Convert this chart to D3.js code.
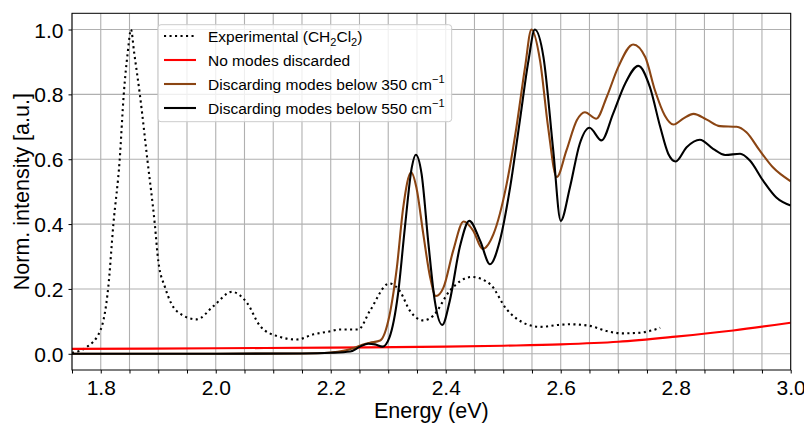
<!DOCTYPE html>
<html><head><meta charset="utf-8">
<script src="https://cdn.jsdelivr.net/npm/d3@7"></script>
<style>body{margin:0;background:#fff}svg{display:block}text{font-family:"Liberation Sans",Arial,Helvetica,sans-serif}</style>
</head><body><svg id="c" width="804" height="423"></svg>
<script>
const expE=[1.75,1.775,1.80,1.813,1.822,1.833,1.840,1.847,1.8526,1.858,1.868,1.881,1.894,1.900,1.912,1.932,1.967,1.996,2.028,2.054,2.077,2.106,2.141,2.170,2.195,2.216,2.248,2.268,2.302,2.320,2.338,2.361,2.378,2.407,2.445,2.477,2.506,2.541,2.564,2.596,2.616,2.651,2.680,2.709,2.738,2.773];
const expV=[0.003,0.02,0.075,0.204,0.40,0.60,0.80,0.93,1.0,0.93,0.8,0.6,0.4,0.287,0.204,0.132,0.106,0.147,0.191,0.158,0.086,0.055,0.044,0.06,0.068,0.075,0.075,0.132,0.217,0.194,0.132,0.103,0.117,0.194,0.237,0.215,0.137,0.091,0.083,0.089,0.091,0.086,0.07,0.063,0.065,0.080];
const redE=[1.75,2.0,2.2,2.4,2.5,2.6,2.7,2.8,2.9,3.0];
const redV=[0.015,0.017,0.019,0.022,0.025,0.029,0.037,0.053,0.072,0.096];
const brownE=[1.75,2.0,2.15,2.2,2.222,2.24,2.255,2.268,2.286,2.300,2.315,2.326,2.340,2.349,2.361,2.373,2.383,2.396,2.413,2.431,2.448,2.464,2.483,2.506,2.523,2.538,2.549,2.564,2.578,2.593,2.610,2.628,2.642,2.662,2.680,2.700,2.726,2.747,2.764,2.781,2.796,2.813,2.831,2.854,2.877,2.906,2.923,2.946,2.969,3.0];
const brownV=[0,0,0.001,0.004,0.009,0.018,0.028,0.034,0.041,0.101,0.266,0.45,0.56,0.513,0.369,0.235,0.178,0.204,0.318,0.408,0.379,0.323,0.369,0.524,0.699,0.884,1.0,0.905,0.70,0.545,0.627,0.72,0.745,0.725,0.792,0.884,0.954,0.915,0.812,0.735,0.707,0.725,0.740,0.722,0.702,0.70,0.683,0.627,0.575,0.532];
const blackE=[1.75,2.0,2.15,2.2,2.234,2.251,2.265,2.277,2.290,2.302,2.317,2.329,2.341,2.348,2.358,2.370,2.381,2.394,2.407,2.425,2.441,2.460,2.477,2.494,2.512,2.529,2.544,2.555,2.570,2.587,2.600,2.616,2.633,2.650,2.671,2.691,2.712,2.735,2.755,2.773,2.787,2.800,2.819,2.842,2.865,2.886,2.912,2.929,2.952,2.975,3.0];
const blackV=[0,0,0.001,0.003,0.007,0.022,0.031,0.029,0.022,0.05,0.184,0.39,0.575,0.614,0.555,0.338,0.163,0.089,0.163,0.333,0.41,0.348,0.276,0.348,0.513,0.72,0.905,1.0,0.915,0.627,0.41,0.513,0.647,0.697,0.658,0.740,0.833,0.888,0.823,0.70,0.617,0.593,0.637,0.66,0.632,0.613,0.617,0.596,0.534,0.482,0.457];
const xTicks=[1.8,2.0,2.2,2.4,2.6,2.8,3.0];
const yTicks=[0.0,0.2,0.4,0.6,0.8,1.0];

const L=72,R=790.7,T=13.3,B=370;
const svg=d3.select("#c");
const x=d3.scaleLinear().domain([1.75,3.0]).range([L,R]);
const y=d3.scaleLinear().domain([-0.05,1.05]).range([B,T]);
const minor=d3.range(0,26).map(i=>1.75+i*0.05);

svg.append("defs").append("clipPath").attr("id","clip").append("rect")
  .attr("x",L).attr("y",T).attr("width",R-L).attr("height",B-T);

// grid
const g=svg.append("g");
g.selectAll("line.vx").data(minor).join("line")
  .attr("x1",d=>x(d)).attr("x2",d=>x(d)).attr("y1",T).attr("y2",B)
  .attr("stroke","#b0b0b0").attr("stroke-width",1.1);
g.selectAll("line.hy").data(yTicks).join("line")
  .attr("y1",d=>y(d)).attr("y2",d=>y(d)).attr("x1",L).attr("x2",R)
  .attr("stroke","#b0b0b0").attr("stroke-width",1.1);

// axes
const xAxis=d3.axisBottom(x).tickValues(minor).tickSize(3.5).tickFormat(d=>{
  const r=Math.round(d*10)/10; return (Math.abs(d-r)<1e-6 && xTicks.some(t=>Math.abs(t-r)<1e-6))?r.toFixed(1):"";});
const ax=svg.append("g").attr("transform",`translate(0,${B})`).call(xAxis);
ax.select(".domain").remove();
ax.selectAll("text").attr("font-size",21).attr("fill","#000").attr("dy",null).attr("y",24.7);
ax.selectAll("line").attr("stroke","#000");
const ay=svg.append("g").attr("transform",`translate(${L},0)`).call(d3.axisLeft(y).tickValues(yTicks).tickSize(3.5).tickFormat(d3.format(".1f")));
ay.select(".domain").remove();
ay.selectAll("text").attr("font-size",21).attr("fill","#000").attr("x",-8.5).attr("dy","0.36em");
ay.selectAll("line").attr("stroke","#000");

// curves
const mk=(E,V)=>E.map((e,i)=>[e,V[i]]);
const line=d3.line().x(d=>x(d[0])).y(d=>y(d[1])).curve(d3.curveMonotoneX);
const cg=svg.append("g").attr("clip-path","url(#clip)");
cg.append("path").attr("d",line(mk(expE,expV))).attr("fill","none").attr("stroke","#000").attr("stroke-width",2.1).attr("stroke-dasharray","2.1,3.4");
cg.append("path").attr("d",line(mk(redE,redV))).attr("fill","none").attr("stroke","#ff0000").attr("stroke-width",2.1);
cg.append("path").attr("d",line(mk(brownE,brownV))).attr("fill","none").attr("stroke","#8b4513").attr("stroke-width",2.1);
cg.append("path").attr("d",line(mk(blackE,blackV))).attr("fill","none").attr("stroke","#000").attr("stroke-width",2.1);

// frame
svg.append("rect").attr("x",L).attr("y",T).attr("width",R-L).attr("height",B-T).attr("fill","none").attr("stroke","#000").attr("stroke-width",1);

// labels
svg.append("text").attr("x",(L+R)/2).attr("y",418).attr("text-anchor","middle").attr("font-size",21.5).text("Energy (eV)");
svg.append("text").attr("transform",`translate(29,${(T+B)/2}) rotate(-90)`).attr("text-anchor","middle").attr("font-size",21.5).text("Norm. intensity [a.u.]");

// legend
const lg=svg.append("g");
lg.append("rect").attr("x",158).attr("y",24.7).attr("width",293.7).attr("height",97).attr("rx",3)
  .attr("fill","#fff").attr("fill-opacity",0.8).attr("stroke","#cccccc").attr("stroke-width",1);
const items=[
  {c:"#000",dash:"2.1,3.4",parts:[["Experimental (CH",0],["2",-1],["Cl",0],["2",-1],[")",0]]},
  {c:"#ff0000",dash:null,parts:[["No modes discarded",0]]},
  {c:"#8b4513",dash:null,parts:[["Discarding modes below 350 cm",0],["\u22121",1]]},
  {c:"#000",dash:null,parts:[["Discarding modes below 550 cm",0],["\u22121",1]]}
];
items.forEach((it,i)=>{
  const yy=36+i*24;
  lg.append("line").attr("x1",164).attr("x2",196).attr("y1",yy).attr("y2",yy)
    .attr("stroke",it.c).attr("stroke-width",2.1).attr("stroke-dasharray",it.dash);
  const t=lg.append("text").attr("x",208).attr("y",yy+5.5).attr("font-size",15.5);
  let off=0;
  it.parts.forEach(p=>{
    const want=p[1]===-1?4:(p[1]===1?-6.5:0);
    const s=t.append("tspan").text(p[0]).attr("dy",want-off);
    if(p[1]!==0) s.attr("font-size",11);
    off=want;
  });
});
</script></body></html>
